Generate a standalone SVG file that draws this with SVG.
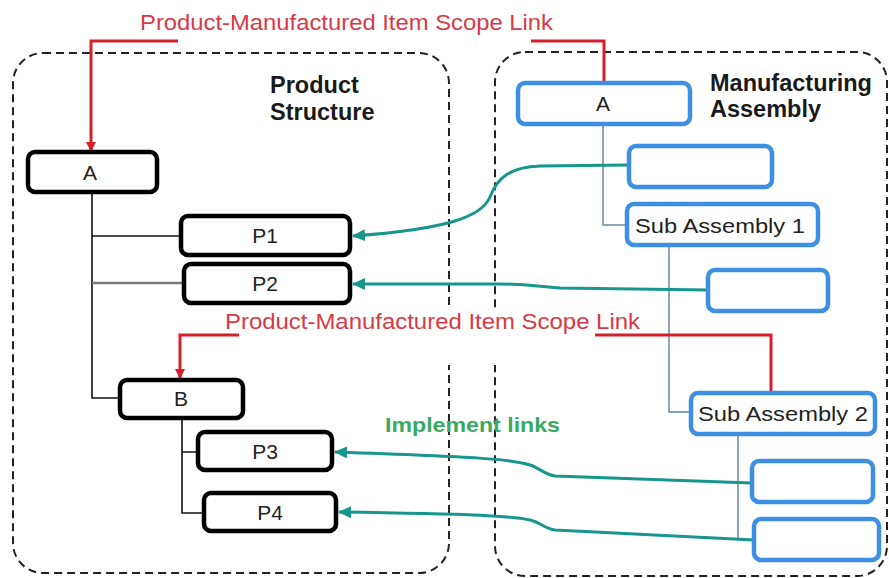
<svg xmlns="http://www.w3.org/2000/svg" width="889" height="578" viewBox="0 0 889 578">
<style>
.cont{fill:none;stroke:#222;stroke-width:2;stroke-dasharray:8 5}
.pn{fill:#fff;stroke:#000;stroke-width:4.5}
.mn{fill:#fff;stroke:#3d8fe3;stroke-width:4.5}
.lbl{font-family:"Liberation Sans",Arial,sans-serif;font-size:21px;fill:#222;text-anchor:middle}
.head{font-family:"Liberation Sans",Arial,sans-serif;font-size:23.5px;font-weight:bold;fill:#1a1a1a}
.red{font-family:"Liberation Sans",Arial,sans-serif;font-size:22px;fill:#d63a46}
.grn{font-family:"Liberation Sans",Arial,sans-serif;font-size:21px;font-weight:bold;fill:#3aaa62}
.tree{fill:none;stroke:#111;stroke-width:1.6}
.mtree{fill:none;stroke:#6a86a4;stroke-width:1.5}
.scope{fill:none;stroke:#d4202c;stroke-width:3}
.impl{fill:none;stroke:#17968c;stroke-width:3}
</style>
<defs>
<marker id="redArrow" markerWidth="10" markerHeight="10" refX="9" refY="5" orient="auto" markerUnits="userSpaceOnUse" viewBox="0 0 10 10">
<path d="M0,0 L10,5 L0,10 Z" fill="#d4202c"/>
</marker>
<marker id="tealArrow" markerWidth="13" markerHeight="12" refX="12" refY="6" orient="auto" markerUnits="userSpaceOnUse" viewBox="0 0 13 12">
<path d="M0,0 L13,6 L0,12 Z" fill="#17968c"/>
</marker>
</defs>
<rect width="889" height="578" fill="#fff"/>
<g id="containers">
<rect id="product-structure-box" class="cont" x="13" y="53" width="436" height="520" rx="30"/>
<rect id="manufacturing-box" class="cont" x="495" y="52" width="392" height="524" rx="30"/>
<rect x="444" y="309" width="58" height="56" fill="#fff"/>
<text class="head" x="270" y="93">Product</text>
<text class="head" x="270" y="120">Structure</text>
<text class="head" x="710" y="91">Manufacturing</text>
<text class="head" x="710" y="117">Assembly</text>
</g>
<g id="connectors">
<path class="tree" d="M92,192 V398 H120 M92,236 H181"/>
<path d="M92,283 H184" fill="none" stroke="#777" stroke-width="2.5"/>
<path class="tree" d="M182,418 V513 H204 M182,452 H198"/>
<path class="mtree" d="M603,124 V225 H627 M669,245 V412 H691 M738,434 V540"/>
<path class="scope" d="M178,41 H91 V151" marker-end="url(#redArrow)"/>
<path class="scope" d="M531,41 H604 V82"/>
<path class="scope" d="M239,335 H180 V378" marker-end="url(#redArrow)"/>
<path class="scope" d="M595,335 H771 V392"/>
<path class="impl" d="M629,165 L540,166 C510,167 497,178 490,197 C482,216 450,229 353,236" marker-end="url(#tealArrow)"/>
<path class="impl" d="M708,290 L560,288 C540,287 530,284 500,284 L353,284" marker-end="url(#tealArrow)"/>
<path class="impl" d="M752,483 L555,476 C545,475 540,468 530,465 C510,459 480,457 335,452" marker-end="url(#tealArrow)"/>
<path class="impl" d="M754,540 L555,530 C545,529 540,522 530,520 C510,516 480,514 339,512" marker-end="url(#tealArrow)"/>
</g>
<g id="labels">
<text class="red" x="140" y="30" textLength="413" lengthAdjust="spacingAndGlyphs">Product-Manufactured Item Scope Link</text>
<text class="red" x="225" y="329" textLength="415" lengthAdjust="spacingAndGlyphs">Product-Manufactured Item Scope Link</text>
<text class="grn" x="385" y="432" textLength="175" lengthAdjust="spacingAndGlyphs">Implement links</text>
</g>
<g id="node-A"><rect class="pn" x="28" y="152" width="129" height="40" rx="7"/><text class="lbl" x="90" y="180">A</text></g>
<g id="node-P1"><rect class="pn" x="181" y="216" width="169" height="39" rx="7"/><text class="lbl" x="265" y="243">P1</text></g>
<g id="node-P2"><rect class="pn" x="184" y="264" width="166" height="39" rx="7"/><text class="lbl" x="265" y="291">P2</text></g>
<g id="node-B"><rect class="pn" x="120" y="380" width="123" height="38" rx="7"/><text class="lbl" x="181" y="406">B</text></g>
<g id="node-P3"><rect class="pn" x="198" y="432" width="134" height="38" rx="7"/><text class="lbl" x="265" y="459">P3</text></g>
<g id="node-P4"><rect class="pn" x="204" y="493" width="132" height="38" rx="7"/><text class="lbl" x="270" y="520">P4</text></g>
<g id="node-MA"><rect class="mn" x="518" y="83" width="172" height="41" rx="7"/><text class="lbl" x="603" y="111">A</text></g>
<g id="node-M1"><rect class="mn" x="629" y="146" width="143" height="41" rx="7"/></g>
<g id="node-SA1"><rect class="mn" x="627" y="204" width="191" height="41" rx="7"/><text class="lbl" x="720" y="233" textLength="170" lengthAdjust="spacingAndGlyphs">Sub Assembly 1</text></g>
<g id="node-M2"><rect class="mn" x="708" y="270" width="120" height="41" rx="7"/></g>
<g id="node-SA2"><rect class="mn" x="691" y="393" width="184" height="41" rx="7"/><text class="lbl" x="783" y="421" textLength="170" lengthAdjust="spacingAndGlyphs">Sub Assembly 2</text></g>
<g id="node-M3"><rect class="mn" x="752" y="461" width="121" height="41" rx="7"/></g>
<g id="node-M4"><rect class="mn" x="754" y="519" width="125" height="41" rx="7"/></g>
</svg>
